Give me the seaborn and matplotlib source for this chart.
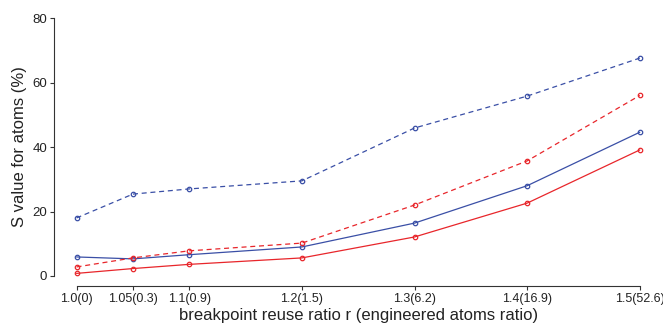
import numpy as np
import pandas as pd
import matplotlib as mpl
mpl.use('Agg')
import matplotlib.pyplot as plt
import seaborn as sns

# data
r_values = [1.0, 1.05, 1.1, 1.2, 1.3, 1.4, 1.5]
tick_labels = ['1.0(0)', '1.05(0.3)', '1.1(0.9)', '1.2(1.5)', '1.3(6.2)', '1.4(16.9)', '1.5(52.6)']
blue_dashed = [18.0, 25.4, 27.0, 29.5, 45.9, 55.8, 67.6]
blue_solid = [5.9, 5.3, 6.6, 9.0, 16.4, 28.0, 44.6]
red_dashed = [2.8, 5.6, 7.8, 10.2, 22.0, 35.7, 56.0]
red_solid = [0.8, 2.3, 3.6, 5.6, 12.1, 22.6, 39.1]

blue = '#3a4fa6'
red = '#e8262b'

series = [
    ('blue dashed', blue_dashed, blue, (0, (4, 3))),
    ('blue solid', blue_solid, blue, '-'),
    ('red dashed', red_dashed, red, (0, (4, 3))),
    ('red solid', red_solid, red, '-'),
]

sns.set_style('white')
plt.rcParams['font.family'] = ['Liberation Sans', 'DejaVu Sans']

fig = plt.figure(figsize=(6.63, 3.24), dpi=100)
ax = fig.add_axes([0.0815, 0.1164, 0.9175, 0.8596])

for name, vals, color, ls in series:
    df = pd.DataFrame({'r': r_values, 'S': vals})
    sns.lineplot(data=df, x='r', y='S', ax=ax, color=color, linewidth=0.9,
                 linestyle=ls, marker='o', markersize=3.2, markerfacecolor='none',
                 markeredgecolor=color, markeredgewidth=0.9)

ax.set_xlim(0.98, 1.52)
ax.set_ylim(-3.2, 83.2)
ax.set_xticks(r_values)
ax.set_xticklabels(tick_labels, family=['Liberation Sans Narrow', 'Liberation Sans'], fontsize=9)
ax.set_yticks([0, 20, 40, 60, 80])
ax.tick_params(axis='y', labelsize=9.5)
ax.tick_params(axis='both', colors='#333333', length=3, width=0.8,
               direction='out', bottom=True, left=True, pad=2, labelcolor='#222222')

for s in ['top', 'right']:
    ax.spines[s].set_visible(False)
ax.spines['left'].set_bounds(0, 80)
ax.spines['bottom'].set_bounds(1.0, 1.5)
for s in ['left', 'bottom']:
    ax.spines[s].set_color('#333333')
    ax.spines[s].set_linewidth(0.8)

ax.set_xlabel('breakpoint reuse ratio r (engineered atoms ratio)', fontsize=12, color='#222222', labelpad=2)
ax.set_ylabel('S value for atoms (%)', fontsize=12, color='#222222', labelpad=4)

fig.savefig('out.png', dpi=100)
